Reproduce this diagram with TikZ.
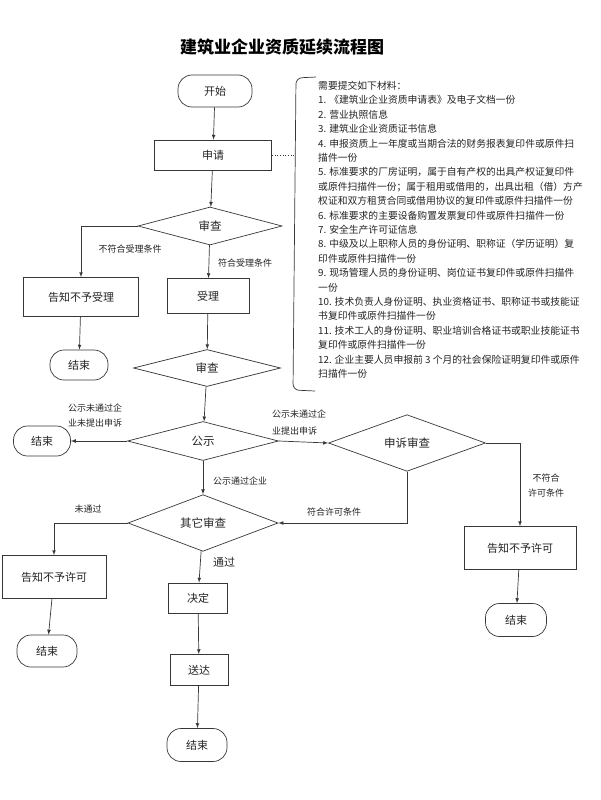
\documentclass[tikz,border=0pt]{standalone}
\usepackage{fontspec}
\setmainfont{Noto Sans CJK SC}
\usetikzlibrary{arrows,shapes,positioning}
\definecolor{flline}{RGB}{55,55,55}
\definecolor{fltext}{RGB}{35,35,35}
\tikzstyle{arrow} = [->,>=latex,color=flline,line width=0.7pt]
\tikzstyle{link} = [color=flline,line width=0.7pt]
\tikzstyle{stepbox} = [rectangle, draw=flline, line width=0.7pt, text=fltext, font=\fontsize{11}{13}\selectfont]
\tikzstyle{terminal} = [rectangle, rounded corners=14pt, draw=flline, line width=0.7pt, minimum width=60pt, minimum height=32pt, text=fltext, font=\fontsize{11}{13}\selectfont]
\tikzstyle{decision} = [diamond, draw=flline, line width=0.7pt, inner sep=0pt, text=fltext, font=\fontsize{11.5}{13}\selectfont]
\tikzstyle{cond} = [text=fltext, inner sep=1pt, font=\fontsize{9}{15}\selectfont]

\begin{document}
\begin{tikzpicture}[x=1pt,y=-1pt]
\useasboundingbox (0,0) rectangle (600,800);

\node[font=\fontsize{17}{20}\selectfont\bfseries] (title) at (282,47) {建筑业企业资质延续流程图};

% main column
\node[terminal, minimum width=74pt] (start) at (215,91) {开始};
\node[stepbox, minimum width=117pt, minimum height=30pt] (apply) at (213,155) {申请};
\node[decision, minimum width=144pt, minimum height=38pt] (chk1) at (210,226) {审查};
\node[stepbox, minimum width=115pt, minimum height=39pt] (noacc) at (81,297) {告知不予受理};
\node[terminal, minimum width=58pt, minimum height=30pt] (end1) at (79,365) {结束};
\node[stepbox, minimum width=82pt, minimum height=35pt] (acc) at (208,296) {受理};
\node[decision, minimum width=147pt, minimum height=37pt] (chk2) at (207,368) {审查};
\node[decision, minimum width=151pt, minimum height=39pt] (pub) at (203,441) {公示};
\node[terminal, minimum width=57pt, minimum height=30pt] (end2) at (42,441) {结束};
\node[decision, minimum width=157pt, minimum height=42pt] (appeal) at (407,443) {申诉审查};
\node[decision, minimum width=150pt, minimum height=42pt] (other) at (203,523) {其它审查};
\node[stepbox, minimum width=112pt, minimum height=43pt] (deny2) at (520,548) {告知不予许可};
\node[terminal, minimum width=61pt, minimum height=33pt] (end3) at (516,620) {结束};
\node[stepbox, minimum width=104pt, minimum height=43pt] (deny1) at (54,577) {告知不予许可};
\node[terminal, minimum width=60pt, minimum height=32pt] (end4) at (47,651) {结束};
\node[stepbox, minimum width=59pt, minimum height=30pt] (decide) at (198,598) {决定};
\node[stepbox, minimum width=58pt, minimum height=31pt] (deliver) at (199,670) {送达};
\node[terminal, minimum width=60pt, minimum height=33pt] (end5) at (197,745) {结束};

% materials list
\draw[link, rounded corners=6pt] (316,77) -- (296,78) -- (293,390) -- (315,391);
\coordinate (brace) at (295,155);
\node[anchor=north west, align=left, inner sep=0pt, text=fltext, font=\fontsize{9.8}{14.4}\selectfont] (docs) at (318,81) {%
需要提交如下材料：\\
1. 《建筑业企业资质申请表》及电子文档一份\\
2. 营业执照信息\\
3. 建筑业企业资质证书信息\\
4. 申报资质上一年度或当期合法的财务报表复印件或原件扫\\
描件一份\\
5. 标准要求的厂房证明，属于自有产权的出具产权证复印件\\
或原件扫描件一份；属于租用或借用的，出具出租（借）方产\\
权证和双方租赁合同或借用协议的复印件或原件扫描件一份\\
6. 标准要求的主要设备购置发票复印件或原件扫描件一份\\
7. 安全生产许可证信息\\
8. 中级及以上职称人员的身份证明、职称证（学历证明）复\\
印件或原件扫描件一份\\
9. 现场管理人员的身份证明、岗位证书复印件或原件扫描件\\
一份\\
10. 技术负责人身份证明、执业资格证书、职称证书或技能证\\
书复印件或原件扫描件一份\\
11. 技术工人的身份证明、职业培训合格证书或职业技能证书\\
复印件或原件扫描件一份\\
12. 企业主要人员申报前 3 个月的社会保险证明复印件或原件\\
扫描件一份};

% labels
\node[cond] (l1) at (130,249) {不符合受理条件};
\node[cond] (l2) at (245,263) {符合受理条件};
\node[cond, anchor=west, align=left] (l3) at (67,416) {公示未通过企\\业未提出申诉};
\node[cond, anchor=west, align=left, font=\fontsize{9}{17}\selectfont] (l4) at (271,423) {公示未通过企\\业提出申诉};
\node[cond] (l5) at (240,481) {公示通过企业};
\node[cond] (l6) at (334,512) {符合许可条件};
\node[cond, align=center] (l7) at (546,486) {不符合\\许可条件};
\node[cond] (l8) at (88,509) {未通过};
\node[cond, font=\fontsize{11}{13}\selectfont] (l9) at (224,562) {通过};

% connectors
\draw[arrow] (start) -- (apply);
\draw[link, dotted, line width=1pt] (apply.east) -- (brace);
\draw[arrow] (apply) -- (chk1);
\draw[arrow] (chk1.west) -| (noacc.north);
\draw[arrow] (chk1) -- (acc);
\draw[arrow] (noacc) -- (end1);
\draw[arrow] (acc) -- (chk2);
\draw[arrow] (chk2) -- (pub);
\draw[arrow] (pub.west) -- (end2.east);
\draw[arrow] (pub.east) -- (appeal.west);
\draw[arrow] (pub) -- (other);
\draw[arrow] (appeal.south) |- (other.east);
\draw[arrow] (appeal.east) -| (deny2.north);
\draw[arrow] (deny2) -- (end3);
\draw[arrow] (other.west) -| (deny1.north);
\draw[arrow] (deny1) -- (end4);
\draw[arrow] (other) -- (decide);
\draw[arrow] (decide) -- (deliver);
\draw[arrow] (deliver) -- (end5);
\end{tikzpicture}
\end{document}
